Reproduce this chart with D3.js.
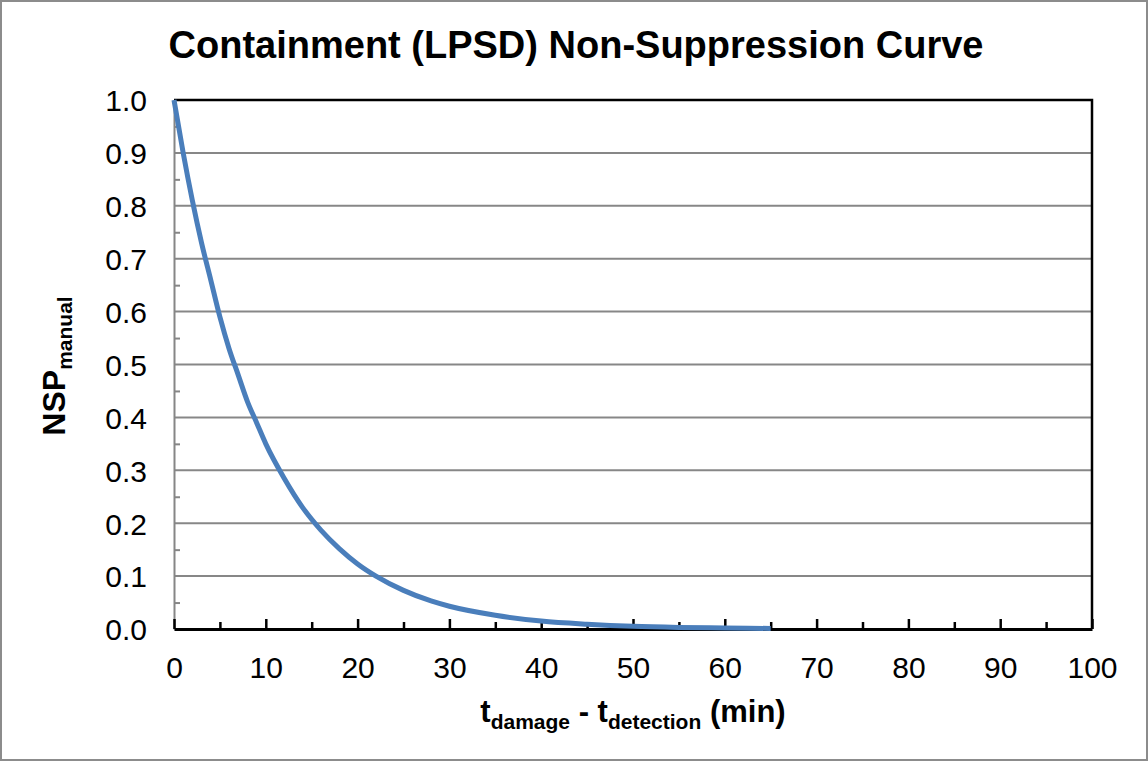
<!DOCTYPE html>
<html>
<head>
<meta charset="utf-8">
<script src="https://cdn.jsdelivr.net/npm/d3@7"></script>
<style>
  body { margin: 0; background: #fff; }
  svg { display: block; font-family: "Liberation Sans", Arial, sans-serif; }
</style>
</head>
<body>
<svg></svg>
<script>
// minutes after detection
var timeMin = [0, 1, 2, 3, 4, 5, 6, 7, 8, 9, 10, 12, 14, 16, 18, 20, 22, 25, 28, 30, 35, 40, 45, 50, 55, 60, 65];
// non-suppression probability
var nspValues = [1.0, 0.90, 0.81, 0.73, 0.66, 0.59, 0.53, 0.48, 0.43, 0.39, 0.35, 0.285, 0.23, 0.187, 0.152, 0.123, 0.10, 0.073, 0.053, 0.043, 0.026, 0.015, 0.009, 0.005, 0.003, 0.002, 0.001];
var xTicks = [0, 10, 20, 30, 40, 50, 60, 70, 80, 90, 100];
var yTicks = [0, 0.1, 0.2, 0.3, 0.4, 0.5, 0.6, 0.7, 0.8, 0.9, 1.0];
var xMinor = [5, 15, 25, 35, 45, 55, 65, 75, 85, 95];
var yMinor = [0.05, 0.15, 0.25, 0.35, 0.45, 0.55, 0.65, 0.75, 0.85, 0.95];

var W = 1148, H = 761;
var margin = {top: 100, right: 56, bottom: 132, left: 174},
    width = W - margin.left - margin.right,
    height = H - margin.top - margin.bottom;

var x = d3.scaleLinear().domain([0, 100]).range([0, width]);
var y = d3.scaleLinear().domain([0, 1]).range([height, 0]);

var svg = d3.select('svg')
    .attr("width", W)
    .attr("height", H);

// outer frame
svg.append("rect")
    .attr("x", 1).attr("y", 1)
    .attr("width", W - 2).attr("height", H - 2)
    .attr("fill", "#fff")
    .attr("stroke", "#8c8c8c")
    .attr("stroke-width", 2);

svg.append("text")
    .attr("x", 576)
    .attr("y", 58)
    .attr("text-anchor", "middle")
    .style("font-size", "38px")
    .style("font-weight", "bold")
    .text("Containment (LPSD) Non-Suppression Curve");

var g = svg.append("g")
    .attr("transform", "translate(" + margin.left + "," + margin.top + ")");

// horizontal gridlines
g.selectAll(".grid")
    .data(yTicks.filter(function(d) { return d > 0 && d < 1; }))
    .enter().append("line")
    .attr("x1", 0).attr("x2", width)
    .attr("y1", function(d) { return y(d); })
    .attr("y2", function(d) { return y(d); })
    .attr("stroke", "#878787")
    .attr("stroke-width", 2);

// top and right frame of plot area
g.append("path")
    .attr("d", "M0," + y(1) + "H" + x(100) + "V" + y(0))
    .attr("fill", "none")
    .attr("stroke", "#000")
    .attr("stroke-width", 2.5);

// y axis
var yAxis = d3.axisRight(y)
    .tickValues(yTicks)
    .tickSize(0)
    .tickFormat(d3.format(".1f"));
var ya = g.append("g").call(yAxis);
ya.select(".domain").attr("stroke", "#868686").attr("stroke-width", 2);
ya.selectAll("text")
    .attr("x", -27)
    .attr("text-anchor", "end")
    .attr("dy", "0.36em")
    .style("font-size", "30px")
    .style("font-family", "'Liberation Sans', Arial, sans-serif")
    .attr("fill", "#000");

var yMinorAxis = d3.axisRight(y).tickValues(yMinor).tickSize(6).tickFormat("");
var ym = g.append("g").call(yMinorAxis);
ym.select(".domain").remove();
ym.selectAll("line").attr("stroke", "#868686").attr("stroke-width", 2);

// x axis
var xAxis = d3.axisTop(x)
    .tickValues(xTicks)
    .tickSize(10)
    .tickSizeOuter(0)
    .tickFormat(d3.format("d"));
var xa = g.append("g")
    .attr("transform", "translate(0," + height + ")")
    .call(xAxis);
xa.select(".domain").attr("stroke", "#000").attr("stroke-width", 3);
xa.selectAll("line").attr("stroke", "#000").attr("stroke-width", 2.5);
xa.selectAll("text")
    .attr("y", 49)
    .attr("dy", 0)
    .style("font-size", "30px")
    .style("font-family", "'Liberation Sans', Arial, sans-serif")
    .attr("fill", "#000");

var xMinorAxis = d3.axisTop(x).tickValues(xMinor).tickSize(7).tickFormat("");
var xm = g.append("g")
    .attr("transform", "translate(0," + height + ")")
    .call(xMinorAxis);
xm.select(".domain").remove();
xm.selectAll("line").attr("stroke", "#000").attr("stroke-width", 2.5);

// curve
var points = timeMin.map(function(t, i) { return [t, nspValues[i]]; });
var line = d3.line()
    .x(function(d) { return x(d[0]); })
    .y(function(d) { return y(d[1]); })
    .curve(d3.curveMonotoneX);

g.append("path")
    .attr("d", line(points))
    .attr("fill", "none")
    .attr("stroke", "#4a7ebb")
    .attr("stroke-width", 5)
    .attr("stroke-linecap", "butt");

// x axis title
var xt = svg.append("text")
    .attr("x", 633)
    .attr("y", 722)
    .attr("text-anchor", "middle")
    .style("font-weight", "bold")
    .style("font-size", "31px");
xt.append("tspan").text("t");
xt.append("tspan").attr("dy", 7).style("font-size", "21px").text("damage");
xt.append("tspan").attr("dy", -7).text(" - t");
xt.append("tspan").attr("dy", 7).style("font-size", "21px").text("detection");
xt.append("tspan").attr("dy", -7).text(" (min)");

// y axis title
var yt = svg.append("text")
    .attr("transform", "translate(65,366) rotate(-90)")
    .attr("text-anchor", "middle")
    .style("font-weight", "bold")
    .style("font-size", "32px");
yt.append("tspan").text("NSP");
yt.append("tspan").attr("dy", 7).style("font-size", "21px").text("manual");
</script>
</body>
</html>
